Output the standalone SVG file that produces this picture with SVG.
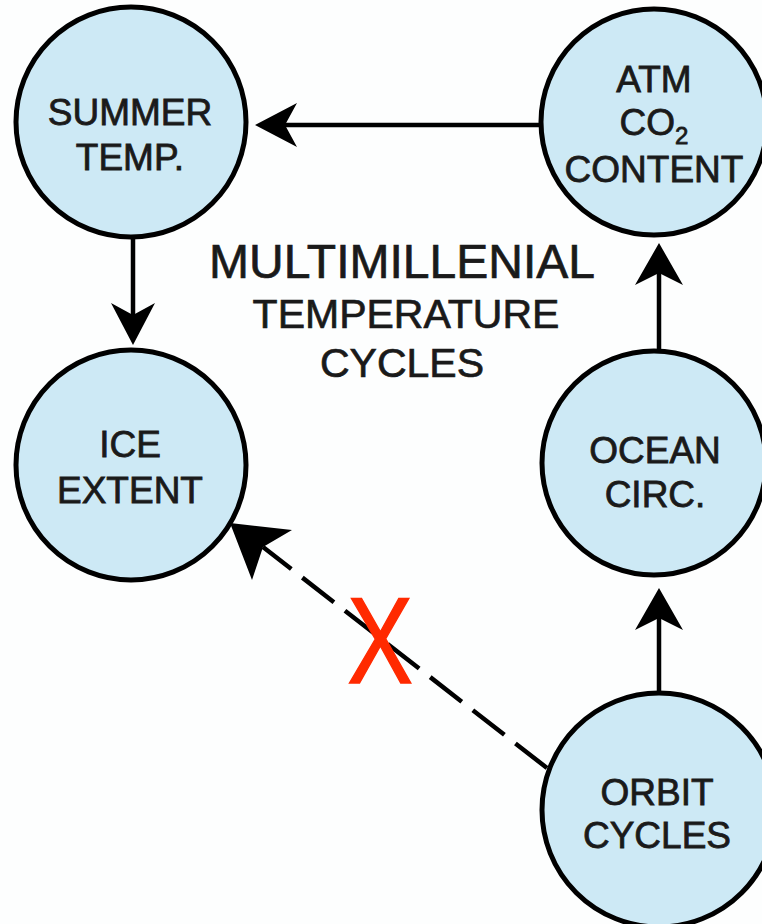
<svg xmlns="http://www.w3.org/2000/svg" width="762" height="924" viewBox="0 0 762 924">
<style>
.node{fill:#cde9f5;stroke:#000;stroke-width:5}
.lbl{font-family:"Liberation Sans",Arial,sans-serif;font-size:37px;fill:#1a1a1a;stroke:#1a1a1a;stroke-width:0.8;text-anchor:middle}
.title{font-family:"Liberation Sans",Arial,sans-serif;fill:#1a1a1a;stroke:#1a1a1a;stroke-width:0.7;text-anchor:middle}
.edge{stroke:#000;stroke-width:4.5;fill:none}
.head{fill:#000}
</style>
<rect width="762" height="924" fill="#fdfefe"/>
<g id="connectors">
<line class="edge" x1="541" y1="125" x2="283" y2="125"/>
<polygon class="head" points="255,125 297,103 285,125 297,147"/>
<line class="edge" x1="133" y1="237" x2="133" y2="317"/>
<polygon class="head" points="133,345 111,303 133,315 155,303"/>
<line class="edge" x1="659" y1="352" x2="659" y2="271"/>
<polygon class="head" points="659,243 635,285 659,273 683,285"/>
<line class="edge" x1="659" y1="693" x2="659" y2="616"/>
<polygon class="head" points="659,588 635,630 659,618 683,630"/>
<line class="edge" x1="547" y1="768" x2="263" y2="547" stroke-width="5" stroke-dasharray="40 14"/>
<polygon class="head" points="230,523 292,530 263,547 252,580"/>
</g>
<g id="summer-temp">
<circle class="node" cx="131" cy="122" r="115"/>
<text class="lbl" x="130" y="125">SUMMER</text>
<text class="lbl" x="130" y="170">TEMP.</text>
</g>
<g id="atm-co2">
<circle class="node" cx="654" cy="122" r="113"/>
<text class="lbl" x="654" y="92">ATM</text>
<text class="lbl" x="654" y="135">CO<tspan font-size="24" dy="9">2</tspan></text>
<text class="lbl" x="654" y="182">CONTENT</text>
</g>
<g id="ice-extent">
<circle class="node" cx="131" cy="465" r="115"/>
<text class="lbl" x="130" y="457">ICE</text>
<text class="lbl" x="130" y="503">EXTENT</text>
</g>
<g id="ocean-circ">
<circle class="node" cx="654" cy="463" r="112"/>
<text class="lbl" x="655" y="463">OCEAN</text>
<text class="lbl" x="655" y="507">CIRC.</text>
</g>
<g id="orbit-cycles">
<circle class="node" cx="659" cy="810" r="117"/>
<text class="lbl" x="657" y="805">ORBIT</text>
<text class="lbl" x="657" y="848">CYCLES</text>
</g>
<g id="title">
<text class="title" x="402" y="278" font-size="48">MULTIMILLENIAL</text>
<text class="title" x="406" y="328" font-size="41">TEMPERATURE</text>
<text class="title" x="402" y="377" font-size="41">CYCLES</text>
</g>
<text id="x-mark" transform="translate(380,683) scale(0.8,1)" font-family="'Liberation Sans',Arial,sans-serif" font-size="123" fill="#ff2a00" stroke="#ff2a00" stroke-width="1.5" text-anchor="middle">X</text>
</svg>
